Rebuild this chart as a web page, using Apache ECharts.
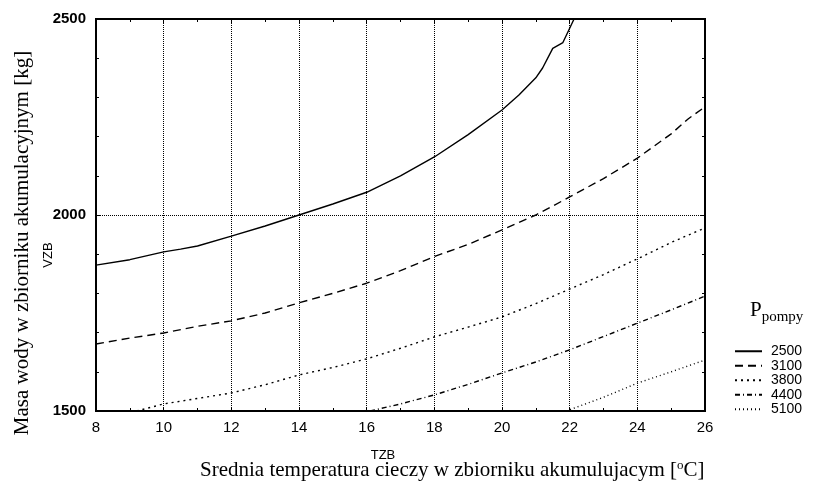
<!DOCTYPE html>
<html>
<head>
<meta charset="utf-8">
<script src="https://cdn.jsdelivr.net/npm/echarts@6/dist/echarts.min.js"></script>
<style>
  html, body { margin: 0; padding: 0; background: #fff; }
</style>
</head>
<body>
<div id="chart" style="width: 813px; height: 483px"></div>
<script>
// moc pompy (legenda)
const pumpPowers = ["2500", "3100", "3800", "4400", "5100"];

// TZB [oC] i VZB [kg]
const tzb2500 = [8, 9, 10, 10.5, 11, 12, 13, 14, 15, 16, 17, 18, 19, 20, 20.5, 21, 21.2, 21.5, 21.8, 22.13];
const vzb2500 = [1872, 1886, 1906, 1913, 1921, 1946, 1972, 2000, 2028, 2058, 2100, 2148, 2205, 2268, 2306, 2350, 2375, 2425, 2440, 2500];

const tzb3100 = [8, 9, 10, 11, 12, 13, 14, 15, 16, 17, 18, 19, 20, 21, 22, 23, 24, 25, 25.5, 26];
const vzb3100 = [1671, 1686, 1699, 1716, 1730, 1750, 1776, 1800, 1826, 1858, 1894, 1925, 1962, 2000, 2046, 2093, 2145, 2207, 2245, 2276];

const tzb3800 = [9.2, 10, 11, 12, 13, 14, 15, 16, 17, 18, 19, 20, 21, 22, 23, 24, 25, 26];
const vzb3800 = [1500, 1518, 1532, 1546, 1567, 1592, 1611, 1633, 1660, 1689, 1714, 1740, 1774, 1811, 1848, 1888, 1930, 1967];

const tzb4400 = [16.1, 17, 18, 19, 20, 21, 22, 23, 24, 25, 26];
const vzb4400 = [1500, 1518, 1541, 1568, 1597, 1625, 1656, 1690, 1724, 1758, 1793];

const tzb5100 = [21.9, 23, 24, 25, 26];
const vzb5100 = [1500, 1535, 1571, 1600, 1630];

const xTicks = [8, 10, 12, 14, 16, 18, 20, 22, 24, 26];
const yTicks = [1500, 2000, 2500];

function pairs(xs, ys) {
  return xs.map((x, i) => [x, ys[i]]);
}

const dashes = ["solid", [8, 5], [2, 4], [5, 3, 1, 3], [1, 3]];
const allData = [
  pairs(tzb2500, vzb2500),
  pairs(tzb3100, vzb3100),
  pairs(tzb3800, vzb3800),
  pairs(tzb4400, vzb4400),
  pairs(tzb5100, vzb5100),
];

const myChart = echarts.init(document.getElementById("chart"), null, { renderer: "canvas" });

const labelFont = { fontFamily: "Liberation Sans", fontSize: 15, color: "#000" };
const titleFont = "Liberation Serif";

const tickStyle = { show: true, inside: true, length: 4, lineStyle: { color: "#000" } };

const option = {
  animation: false,
  backgroundColor: "#fff",
  grid: {
    left: 96,
    right: 108,
    top: 19,
    bottom: 72,
    show: true,
    borderColor: "#000",
    borderWidth: 2,
  },
  legend: {
    data: pumpPowers,
    orient: "vertical",
    left: 734,
    top: 344,
    itemWidth: 27,
    itemHeight: 10,
    itemGap: 0,
    padding: 0,
    itemStyle: { opacity: 0 },
    textStyle: { fontFamily: "Liberation Sans", fontSize: 14, lineHeight: 14.5, color: "#000", padding: [0, 0, 0, 4] },
  },
  xAxis: [
    {
      type: "value",
      min: 8,
      max: 26,
      interval: 2,
      axisLine: { show: false },
      axisTick: tickStyle,
      minorTick: { show: true, splitNumber: 2, length: 3, lineStyle: { color: "#000" } },
      axisLabel: { ...labelFont, margin: 9, formatter: (v) => (xTicks.includes(v) ? String(v) : "") },
      splitLine: { show: true, lineStyle: { color: "#000", type: [1, 1], width: 1 } },
    },
    {
      type: "value",
      position: "top",
      min: 8,
      max: 26,
      interval: 2,
      axisLine: { show: false },
      axisTick: tickStyle,
      minorTick: { show: true, splitNumber: 2, length: 3, lineStyle: { color: "#000" } },
      axisLabel: { show: false },
      splitLine: { show: false },
    },
  ],
  yAxis: [
    {
      type: "value",
      min: 1500,
      max: 2500,
      interval: 500,
      axisLine: { show: false },
      axisTick: tickStyle,
      minorTick: { show: true, splitNumber: 5, length: 3, lineStyle: { color: "#000" } },
      axisLabel: { ...labelFont, fontWeight: "bold", margin: 10, formatter: (v) => (yTicks.includes(v) ? String(v) : "") },
      splitLine: { show: true, lineStyle: { color: "#000", type: [1, 1], width: 1 } },
    },
    {
      type: "value",
      position: "right",
      min: 1500,
      max: 2500,
      interval: 500,
      axisLine: { show: false },
      axisTick: tickStyle,
      minorTick: { show: true, splitNumber: 5, length: 3, lineStyle: { color: "#000" } },
      axisLabel: { show: false },
      splitLine: { show: false },
    },
  ],
  series: pumpPowers.map((name, i) => ({
    name: name,
    type: "line",
    xAxisIndex: 0,
    yAxisIndex: 0,
    data: allData[i],
    showSymbol: false,
    symbol: "none",
    clip: true,
    itemStyle: { color: "#000" },
    lineStyle: { color: "#000", width: 1.4, type: dashes[i] },
  })),
  graphic: [
    {
      type: "text",
      left: 750,
      top: 300,
      style: {
        text: "{p|P}{s|pompy}",
        rich: {
          p: { fontFamily: titleFont, fontSize: 21, fill: "#000" },
          s: { fontFamily: titleFont, fontSize: 15, fill: "#000", padding: [14, 0, 0, 0] },
        },
      },
    },
    {
      type: "text",
      x: 22,
      y: 243,
      rotation: Math.PI / 2,
      style: {
        text: "Masa wody w zbiorniku akumulacyjnym [kg]",
        fontFamily: titleFont,
        fontSize: 21,
        fill: "#000",
        align: "center",
        verticalAlign: "middle",
      },
    },
    {
      type: "text",
      x: 48,
      y: 255,
      rotation: Math.PI / 2,
      style: {
        text: "VZB",
        fontFamily: "Liberation Sans",
        fontSize: 13,
        fill: "#000",
        align: "center",
        verticalAlign: "middle",
      },
    },
    {
      type: "text",
      x: 383,
      y: 455,
      style: {
        text: "TZB",
        fontFamily: "Liberation Sans",
        fontSize: 13,
        fill: "#000",
        align: "center",
        verticalAlign: "middle",
      },
    },
    {
      type: "text",
      x: 200,
      y: 470,
      style: {
        text: "{t|Srednia temperatura cieczy w zbiorniku akumulujacym [}{o|o}{t|C]}",
        align: "left",
        verticalAlign: "middle",
        rich: {
          t: { fontFamily: titleFont, fontSize: 21, fill: "#000" },
          o: { fontFamily: titleFont, fontSize: 13, fill: "#000", padding: [0, 0, 9, 0] },
        },
      },
    },
  ],
};

myChart.setOption(option);
</script>
</body>
</html>
